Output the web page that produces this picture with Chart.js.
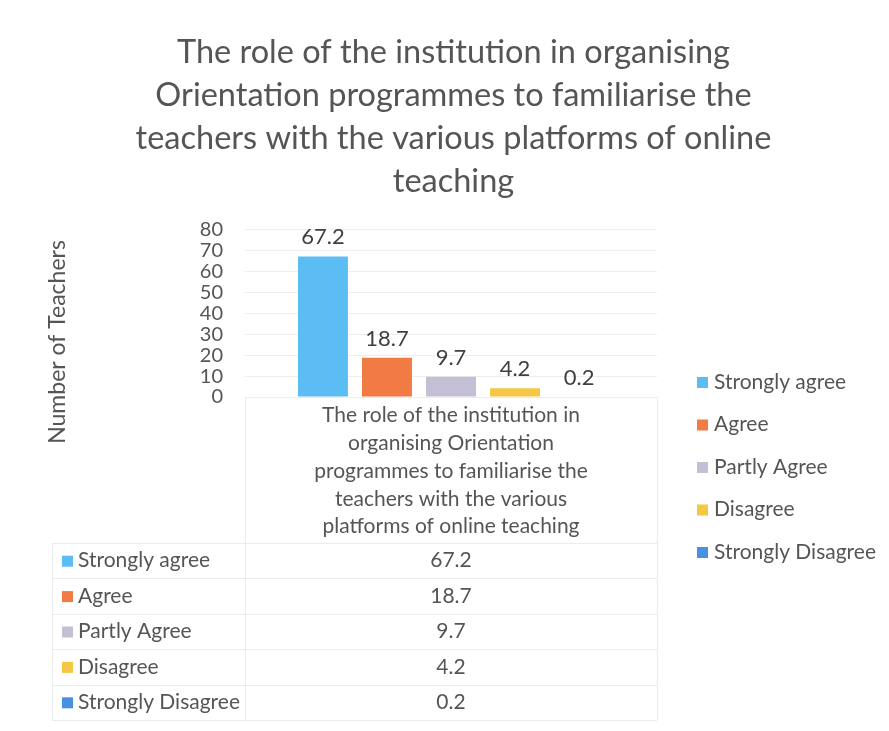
<!DOCTYPE html>
<html>
<head>
<meta charset="utf-8">
<script src="https://cdn.jsdelivr.net/npm/chart.js@4/dist/chart.umd.min.js"></script>
<style>
  html, body { margin: 0; padding: 0; background: #ffffff; }
  #wrap { width: 889px; height: 731px; position: relative; }
</style>
</head>
<body>
<div id="wrap"><canvas id="chart"></canvas></div>
<script>
// chart data
const titleLines = [
  'The role of the institution in organising',
  'Orientation programmes to familiarise the',
  'teachers with the various platforms of online',
  'teaching'
];
const categoryLines = [
  'The role of the institution in',
  'organising Orientation',
  'programmes to familiarise the',
  'teachers with the various',
  'platforms of online teaching'
];
const seriesNames = ['Strongly agree', 'Agree', 'Partly Agree', 'Disagree', 'Strongly Disagree'];
const seriesValues = [67.2, 18.7, 9.7, 4.2, 0.2];
const seriesColors = ['#5cbcf4', '#f27b43', '#c4bfd4', '#f6c744', '#4a90e2'];
const yAxisTitle = 'Number of Teachers';

const FONT = 'Lato, "Open Sans", sans-serif';
const TEXT = '#555555';

// value labels above bars, y title, data table under the plot, legend on the right
const extrasPlugin = {
  id: 'extras',
  afterDatasetsDraw(chart) {
    const ctx = chart.ctx;
    ctx.save();
    ctx.font = '22px ' + FONT;
    ctx.fillStyle = '#404040';
    ctx.textAlign = 'center';
    ctx.textBaseline = 'bottom';
    chart.data.datasets.forEach((ds, i) => {
      const bar = chart.getDatasetMeta(i).data[0];
      ctx.fillText(String(ds.data[0]), bar.x, bar.y - 8);
    });
    ctx.restore();
  },
  afterDraw(chart) {
    const ctx = chart.ctx;
    const area = chart.chartArea;
    const xs = chart.scales.x;
    const tableLeft = 52;
    const tableTop = 543;
    const tableBottom = 720;
    const rowH = (tableBottom - tableTop) / seriesNames.length;
    const colX = xs.getPixelForValue(0);

    ctx.save();
    // y axis title (sits lower than the plot centre in the original)
    ctx.save();
    ctx.translate(58, 342);
    ctx.rotate(-Math.PI / 2);
    ctx.font = '23px ' + FONT;
    ctx.fillStyle = TEXT;
    ctx.textAlign = 'center';
    ctx.textBaseline = 'middle';
    ctx.fillText(yAxisTitle, 0, 0);
    ctx.restore();

    // cell borders
    ctx.strokeStyle = '#ebebeb';
    ctx.lineWidth = 1;
    ctx.beginPath();
    ctx.moveTo(area.left + 0.5, area.bottom);
    ctx.lineTo(area.left + 0.5, tableBottom);
    ctx.moveTo(area.right + 0.5, area.bottom);
    ctx.lineTo(area.right + 0.5, tableBottom);
    ctx.moveTo(tableLeft + 0.5, tableTop);
    ctx.lineTo(tableLeft + 0.5, tableBottom);
    for (let r = 0; r <= seriesNames.length; r++) {
      const y = Math.round(tableTop + r * rowH) + 0.5;
      ctx.moveTo(tableLeft, y);
      ctx.lineTo(area.right, y);
    }
    ctx.stroke();

    // rows
    ctx.font = '21px ' + FONT;
    ctx.textBaseline = 'middle';
    seriesNames.forEach((name, i) => {
      const cy = tableTop + rowH * (i + 0.5);
      ctx.fillStyle = seriesColors[i];
      ctx.fillRect(tableLeft + 10, cy - 5, 11, 11);
      ctx.fillStyle = TEXT;
      ctx.textAlign = 'left';
      ctx.fillText(name, tableLeft + 26, cy);
      ctx.textAlign = 'center';
      ctx.fillText(String(seriesValues[i]), colX, cy);
    });

    // legend
    const lx = 697;
    const ly = 382;
    const step = 42.5;
    seriesNames.forEach((name, i) => {
      const cy = ly + i * step;
      ctx.fillStyle = seriesColors[i];
      ctx.fillRect(lx, cy - 5, 11, 11);
      ctx.fillStyle = TEXT;
      ctx.textAlign = 'left';
      ctx.fillText(name, lx + 17, cy);
    });
    ctx.restore();
  }
};

const datasets = seriesNames.map((name, i) => ({
  label: name,
  data: [seriesValues[i]],
  backgroundColor: seriesColors[i],
  borderWidth: 0,
  categoryPercentage: 0.777,
  barPercentage: 0.78
}));

new Chart(document.getElementById('chart'), {
  type: 'bar',
  data: { labels: [categoryLines], datasets: datasets },
  options: {
    responsive: true,
    maintainAspectRatio: false,
    animation: false,
    layout: { padding: { left: 18, right: 0, top: 0, bottom: 11 } },
    plugins: {
      legend: { display: false },
      tooltip: { enabled: false },
      title: {
        display: true,
        text: titleLines,
        color: TEXT,
        font: { family: FONT, size: 32.5, weight: 'normal', lineHeight: 1.32 },
        padding: { top: 31, bottom: 27 }
      }
    },
    scales: {
      x: {
        grid: { display: false },
        border: { display: false },
        ticks: {
          color: TEXT,
          font: { family: FONT, size: 21, lineHeight: 1.33 },
          padding: -4,
          maxRotation: 0
        },
        afterFit(s) { s.height = 323; }
      },
      y: {
        min: 0,
        max: 80,
        ticks: {
          stepSize: 10,
          autoSkip: false,
          color: TEXT,
          font: { family: FONT, size: 20, lineHeight: 1 },
          padding: 22
        },
        grid: { color: '#eeeeee', drawTicks: false },
        border: { display: false },
        afterFit(s) { s.width = 227; }
      },
      // empty right-hand axis that keeps room for the legend
      side: {
        type: 'linear',
        position: 'right',
        display: true,
        grid: { display: false },
        border: { display: false },
        ticks: { display: false },
        afterFit(s) { s.width = 232; }
      }
    }
  },
  plugins: [extrasPlugin]
});
</script>
</body>
</html>
